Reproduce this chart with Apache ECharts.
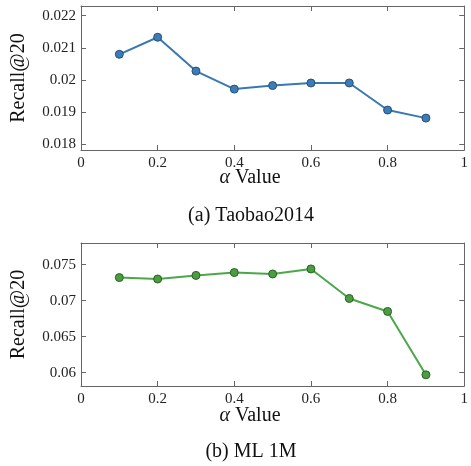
<!DOCTYPE html>
<html><head><meta charset="utf-8">
<script src="https://cdn.jsdelivr.net/npm/echarts@6/dist/echarts.min.js"></script>
<style>html,body{margin:0;padding:0;background:#fff}#c{width:471px;height:466px}</style>
</head><body><div id="c"></div>
<script>
const alphaValues = [0.1, 0.2, 0.3, 0.4, 0.5, 0.6, 0.7, 0.8, 0.9];
const taobaoRecall = [0.02080, 0.02133, 0.02028, 0.01972, 0.01983, 0.01991, 0.01991, 0.01907, 0.01882];
const ml1mRecall = [0.0732, 0.0730, 0.0735, 0.0739, 0.0737, 0.0744, 0.0703, 0.0685, 0.0597];
const taobaoTicks = [0.018, 0.019, 0.020, 0.021, 0.022];
const ml1mTicks = [0.060, 0.065, 0.070, 0.075];
const xTicks = [0, 0.2, 0.4, 0.6, 0.8, 1];
const captions = ['(a) Taobao2014', '(b) ML 1M'];

const font = 'Liberation Serif';
const axisColor = '#666';
const chart = echarts.init(document.getElementById('c'));
const fmt = v => String(+(+v).toFixed(4));

function xAx(grid, pos, show) {
  return {
    type: 'value', gridIndex: grid, position: pos, min: 0, max: 1, interval: 0.2,
    axisLine: {show: true, onZero: false, lineStyle: {color: axisColor, width: 1}},
    axisTick: {show: true, inside: true, length: 5, lineStyle: {color: axisColor}},
    axisLabel: {show: show, fontFamily: font, fontSize: 15, color: '#222', margin: 6, formatter: fmt},
    splitLine: {show: false}
  };
}
function yAx(grid, pos, show, min, max, ticks) {
  return {
    type: 'value', gridIndex: grid, position: pos, min: min, max: max,
    axisLine: {show: true, onZero: false, lineStyle: {color: axisColor, width: 1}},
    axisTick: {show: true, inside: true, length: 5, customValues: ticks, lineStyle: {color: axisColor}},
    axisLabel: {show: show, customValues: ticks, fontFamily: font, fontSize: 15, color: '#222', margin: 5, formatter: fmt},
    splitLine: {show: false},
    name: show ? 'Recall@20' : '', nameLocation: 'middle', nameRotate: 90, nameGap: 52,
    nameTextStyle: {fontFamily: font, fontSize: 20, color: '#111'}
  };
}
function ser(xi, yi, data, line, fill, border) {
  return {
    type: 'line', xAxisIndex: xi, yAxisIndex: yi,
    data: alphaValues.map((a, i) => [a, data[i]]),
    symbol: 'circle', symbolSize: 8,
    lineStyle: {color: line, width: 2},
    itemStyle: {color: fill, borderColor: border, borderWidth: 1},
    z: 3
  };
}
function label(y, top) {
  return {type: 'text', left: 'center', top: y, style: {}};
}
chart.setOption({
  animation: false,
  grid: [
    {left: 81, top: 6, width: 384, height: 144},
    {left: 81, top: 243, width: 384, height: 143}
  ],
  xAxis: [xAx(0, 'bottom', true), xAx(0, 'top', false), xAx(1, 'bottom', true), xAx(1, 'top', false)],
  yAxis: [
    yAx(0, 'left', true, 0.01783, 0.0223, taobaoTicks), yAx(0, 'right', false, 0.01783, 0.0223, taobaoTicks),
    yAx(1, 'left', true, 0.05815, 0.0780, ml1mTicks), yAx(1, 'right', false, 0.05815, 0.0780, ml1mTicks)
  ],
  series: [
    ser(0, 0, taobaoRecall, '#3a78b2', '#3d7cb6', '#24507a'),
    ser(2, 2, ml1mRecall, '#4aa84a', '#4a9e3f', '#2a5e24')
  ],
  graphic: [
    {type: 'text', x: 250, y: 178, style: {text: '{i|α} Value', rich: {i: {fontStyle: 'italic', fontFamily: font, fontSize: 20, fill: '#111'}}, font: '20px "Liberation Serif"', fill: '#111', align: 'center', verticalAlign: 'middle'}},
    {type: 'text', x: 250, y: 416, style: {text: '{i|α} Value', rich: {i: {fontStyle: 'italic', fontFamily: font, fontSize: 20, fill: '#111'}}, font: '20px "Liberation Serif"', fill: '#111', align: 'center', verticalAlign: 'middle'}},
    {type: 'text', x: 251, y: 216, style: {text: captions[0], font: '20px "Liberation Serif"', fill: '#111', align: 'center', verticalAlign: 'middle'}},
    {type: 'text', x: 251, y: 452, style: {text: captions[1], font: '20px "Liberation Serif"', fill: '#111', align: 'center', verticalAlign: 'middle'}}
  ]
});
</script></body></html>
